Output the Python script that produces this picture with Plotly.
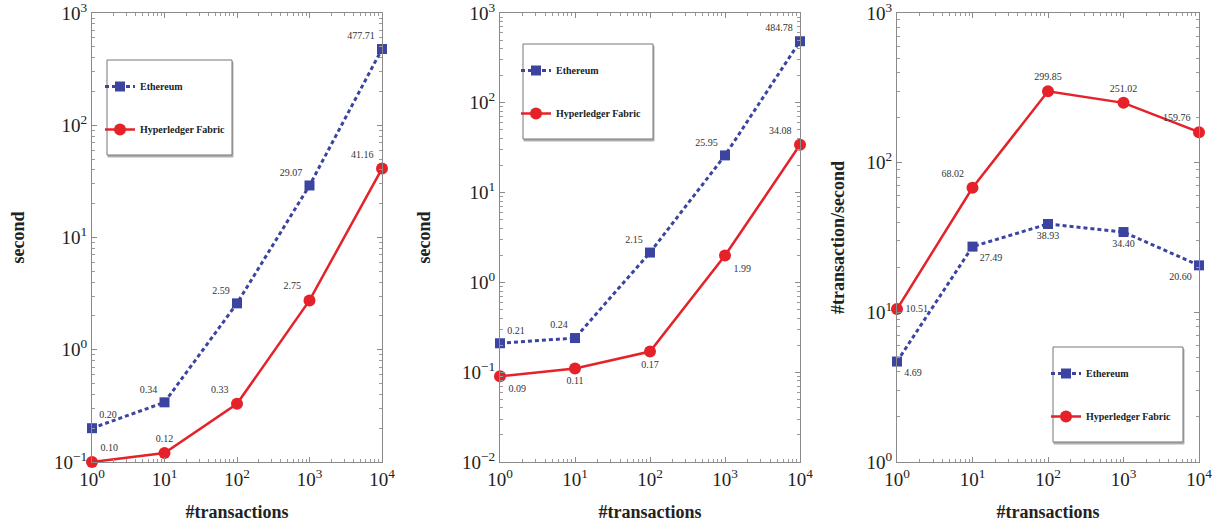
import plotly.graph_objects as go

x_tx = [1, 10, 100, 1000, 10000]

# Panel 1: latency (second)
p1_eth = [0.20, 0.34, 2.59, 29.07, 477.71]
p1_hf = [0.10, 0.12, 0.33, 2.75, 41.16]
# Panel 2: latency (second)
p2_eth = [0.21, 0.24, 2.15, 25.95, 484.78]
p2_hf = [0.09, 0.11, 0.17, 1.99, 34.08]
# Panel 3: throughput (#transaction/second)
p3_eth = [4.69, 27.49, 38.93, 34.40, 20.60]
p3_hf = [10.51, 68.02, 299.85, 251.02, 159.76]

series_names = ["Ethereum", "Hyperledger Fabric"]

p1_eth_pos = ["top right", "top left", "top left", "top left", "top left"]
p1_hf_pos = ["top right", "top center", "top left", "top left", "top left"]
p2_eth_pos = ["top right", "top left", "top left", "top left", "top left"]
p2_hf_pos = ["bottom right", "bottom center", "bottom center", "bottom right", "top left"]
p3_eth_pos = ["bottom right", "bottom right", "bottom center", "bottom center", "bottom left"]
p3_hf_pos = ["middle right", "top left", "top center", "top center", "top left"]

BLUE = "#3b44a0"
RED = "#e5222a"
SERIF = "Liberation Serif"
W, H = 1221, 531

fig = go.Figure()

panels = [
    (p1_eth, p1_hf, p1_eth_pos, p1_hf_pos, "x", "y", "legend"),
    (p2_eth, p2_hf, p2_eth_pos, p2_hf_pos, "x2", "y2", "legend2"),
    (p3_eth, p3_hf, p3_eth_pos, p3_hf_pos, "x3", "y3", "legend3"),
]

for eth, hf, epos, hpos, xa, ya, lg in panels:
    fig.add_trace(go.Scatter(
        x=x_tx, y=eth, xaxis=xa, yaxis=ya, legend=lg,
        name=series_names[0], legendgroup="eth" + xa,
        mode="lines+markers+text",
        text=["%.2f" % v for v in eth], textposition=epos,
        textfont=dict(family=SERIF, size=10, color="#333333"),
        line=dict(color=BLUE, width=3, dash="4px,3px"),
        marker=dict(symbol="square", size=10, color=BLUE),
        cliponaxis=False,
    ))
    fig.add_trace(go.Scatter(
        x=x_tx, y=hf, xaxis=xa, yaxis=ya, legend=lg,
        name=series_names[1], legendgroup="hf" + xa,
        mode="lines+markers+text",
        text=["%.2f" % v for v in hf], textposition=hpos,
        textfont=dict(family=SERIF, size=10, color="#333333"),
        line=dict(color=RED, width=2.5),
        marker=dict(symbol="circle", size=12, color=RED),
        cliponaxis=False,
    ))

def px_x(v):
    return v / W

def px_y(v):
    return 1 - v / H

xdoms = [(92, 382), (500, 800), (897, 1199)]
ydom = [px_y(462), px_y(13)]
yranges = [(-1, 3), (-2, 3), (0, 3)]
ytitles = ["second", "second", "#transaction/second"]
ystandoffs = [24, 26, 17]

def minor_vals(lo, hi):
    return [m * 10 ** k for k in range(lo, hi) for m in range(2, 10)]

axis_common = dict(
    type="log", showgrid=False, zeroline=False, automargin=False,
    showline=True, linecolor="#8a8a8a", linewidth=1, mirror="allticks",
    ticks="inside", ticklen=5, tickcolor="#8a8a8a",
    tickfont=dict(family=SERIF, size=19, color="#222222"),
    ticklabeloverflow="allow",
)

for i in range(3):
    suffix = "" if i == 0 else str(i + 1)
    lo, hi = yranges[i]
    yt = [10 ** k for k in range(lo, hi + 1)]
    fig.update_layout(**{
        "xaxis" + suffix: dict(
            axis_common, domain=[px_x(xdoms[i][0]), px_x(xdoms[i][1])],
            anchor="y" + suffix, range=[0, 4],
            tickvals=[1, 10, 100, 1000, 10000],
            ticktext=["10<sup>%d</sup>" % k for k in range(5)],
            minor=dict(ticks="inside", ticklen=3, tickcolor="#9a9a9a", showgrid=False,
                       tickvals=minor_vals(0, 4)),
            title=dict(text="<b>#transactions</b>", font=dict(family=SERIF, size=18, color="#222222"), standoff=16),
        ),
        "yaxis" + suffix: dict(
            axis_common, domain=ydom, anchor="x" + suffix, range=[lo, hi],
            tickvals=yt,
            ticktext=["10<sup>%s</sup>" % (str(k) if k >= 0 else "\u2212%d" % (-k)) for k in range(lo, hi + 1)],
            minor=dict(ticks="inside", ticklen=3, tickcolor="#9a9a9a", showgrid=False,
                       tickvals=minor_vals(lo, hi)),
            title=dict(text="<b>%s</b>" % ytitles[i], font=dict(family=SERIF, size=18, color="#222222"), standoff=ystandoffs[i]),
        ),
    })

# legend boxes
boxes = [(107, 60, 232, 155), (523, 44, 653, 139), (1053, 347, 1183, 442)]
shapes = []
for (x0, y0, x1, y1) in boxes:
    shapes.append(dict(type="rect", xref="paper", yref="paper",
                       x0=px_x(x0 + 1), x1=px_x(x1 + 1), y0=px_y(y1 + 2), y1=px_y(y0 + 2),
                       line=dict(color="#b0b0b0", width=1), fillcolor="#b0b0b0", layer="below"))
    shapes.append(dict(type="rect", xref="paper", yref="paper",
                       x0=px_x(x0), x1=px_x(x1), y0=px_y(y1), y1=px_y(y0),
                       line=dict(color="#777777", width=1), fillcolor="white", layer="below"))

legend_common = dict(
    bgcolor="rgba(0,0,0,0)", borderwidth=0,
    font=dict(family=SERIF, size=10, color="#222222", weight="bold"),
    tracegroupgap=24, itemwidth=30, xanchor="left", yanchor="top",
)
fig.update_layout(
    width=W, height=H,
    margin=dict(l=0, r=0, t=0, b=0),
    paper_bgcolor="white", plot_bgcolor="white",
    shapes=shapes,
    showlegend=True,
    legend=dict(legend_common, x=px_x(100), y=px_y(72)),
    legend2=dict(legend_common, x=px_x(516), y=px_y(56)),
    legend3=dict(legend_common, x=px_x(1046), y=px_y(359)),
)

fig.write_html("out.html", config={"displayModeBar": False},
               post_script="document.body.style.margin='0';")
